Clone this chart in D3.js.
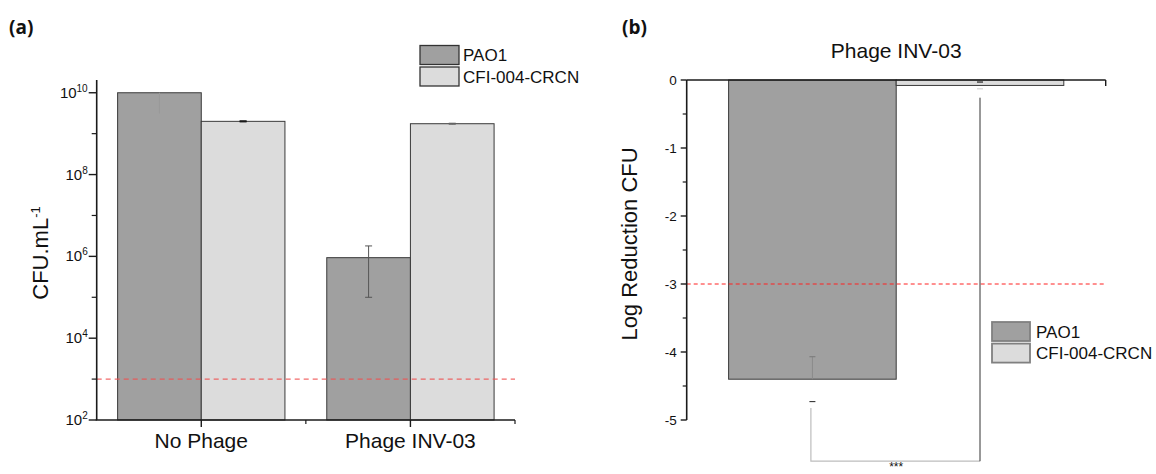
<!DOCTYPE html>
<html>
<head>
<meta charset="utf-8">
<script src="https://cdn.jsdelivr.net/npm/d3@7"></script>
<style>
  html, body { margin: 0; padding: 0; background: #fff; }
  svg { display: block; font-family: "Liberation Sans", Arial, sans-serif; }
</style>
</head>
<body>
<svg id="chart" width="1156" height="474"></svg>
<script>
// ---------------- DATA ----------------
const categories = ["No Phage", "Phage INV-03"];
const seriesNames = ["PAO1", "CFI-004-CRCN"];
const seriesColors = ["#a0a0a0", "#dcdcdc"];

// Panel (a): CFU per mL (log axis)
const cfuPAO1 = [1.0e10, 9.3e5];
const cfuCFI = [2.0e9, 1.75e9];
const pao1Low = [3.1e9, 1.0e5];
const pao1High = [1.0e10, 1.8e6];
const cfiLow = [1.97e9, 1.70e9];
const cfiHigh = [2.03e9, 1.80e9];
const logMajorTicks = [1e2, 1e4, 1e6, 1e8, 1e10];
const logTickExponents = ["2", "4", "6", "8", "10"];
const logMinorTicks = [1e3, 1e5, 1e7, 1e9];
const detectionLimit = 1e3;

// Panel (b): log reduction
const reductionTitle = "Phage INV-03";
const reductionCategory = ["Phage INV-03"];
const reductionPAO1 = [-4.40];
const reductionCFI = [-0.08];
const redPAO1Low = [-4.73];
const redPAO1High = [-4.07];
const redCFILow = [-0.13];
const redCFIHigh = [-0.03];
const reductionMajorTicks = [0, -1, -2, -3, -4, -5];
const reductionMinorTicks = [-0.5, -1.5, -2.5, -3.5, -4.5];
const reductionThreshold = -3;
const significanceLabel = "***";

// ---------------- DRAW ----------------
const svg = d3.select("#chart");
svg.append("rect").attr("width", 1156).attr("height", 474).attr("fill", "#fff");

const axisColor = "#1a1a1a";

// ===== Panel (a) =====
const aLeft = 96.7, aRight = 515, aBottom = 420, aTop = 80;
const yA = d3.scaleLog().domain([1e2, 2.05e10]).range([aBottom, aTop]);
const xA = d3.scaleBand().domain(categories).range([aLeft, aRight])
  .paddingInner(0.2).paddingOuter(0.1);
const xASeries = d3.scaleBand().domain(seriesNames).range([0, xA.bandwidth()]);

svg.append("text").attr("x", 9).attr("y", 34)
  .attr("font-family", "'Open Sans', Lato, sans-serif").attr("font-weight", 700)
  .attr("font-size", 19).attr("fill", "#111").text("(a)");

const aData = [];
categories.forEach((c, i) => {
  aData.push({cat: c, s: seriesNames[0], v: cfuPAO1[i], lo: pao1Low[i], hi: pao1High[i], color: seriesColors[0]});
  aData.push({cat: c, s: seriesNames[1], v: cfuCFI[i], lo: cfiLow[i], hi: cfiHigh[i], color: seriesColors[1]});
});

const gA = svg.append("g");
gA.selectAll("rect.bar").data(aData).enter().append("rect")
  .attr("class", "bar")
  .attr("x", d => xA(d.cat) + xASeries(d.s))
  .attr("y", d => yA(d.v))
  .attr("width", xASeries.bandwidth())
  .attr("height", d => yA(1e2) - yA(d.v))
  .attr("fill", d => d.color)
  .attr("stroke", "#3a3a3a").attr("stroke-width", 1);

// error bars (a)
const errStyleA = ["#989898", "#1a1a1a", "#555", "#666"];
aData.forEach((d, i) => {
  const cx = xA(d.cat) + xASeries(d.s) + xASeries.bandwidth() / 2;
  const col = errStyleA[i];
  gA.append("line").attr("x1", cx).attr("x2", cx)
    .attr("y1", yA(d.lo)).attr("y2", yA(d.hi))
    .attr("stroke", col).attr("stroke-width", 1);
  if (i === 0) return;
  [d.lo, d.hi].forEach(v => {
    gA.append("line").attr("x1", cx - 3.5).attr("x2", cx + 3.5)
      .attr("y1", yA(v)).attr("y2", yA(v))
      .attr("stroke", col).attr("stroke-width", i === 1 ? 1.6 : 1);
  });
});

// detection limit (a)
gA.append("line").attr("x1", aLeft).attr("x2", aRight)
  .attr("y1", yA(detectionLimit)).attr("y2", yA(detectionLimit))
  .attr("stroke", "#f05050").attr("stroke-opacity", 0.85)
  .attr("stroke-width", 1.3).attr("stroke-dasharray", "5,4");

// y axis (a)
gA.append("line").attr("x1", aLeft).attr("x2", aLeft).attr("y1", aBottom).attr("y2", aTop)
  .attr("stroke", axisColor).attr("stroke-width", 1.6);
logMajorTicks.forEach((t, i) => {
  gA.append("line").attr("x1", aLeft - 8).attr("x2", aLeft)
    .attr("y1", yA(t)).attr("y2", yA(t)).attr("stroke", axisColor).attr("stroke-width", 1.4);
  const tx = gA.append("text").attr("x", aLeft - 9).attr("y", yA(t) + 5)
    .attr("text-anchor", "end").attr("font-size", 15).attr("fill", "#111");
  tx.append("tspan").text("10");
  tx.append("tspan").attr("dy", -6).attr("font-size", 10).text(logTickExponents[i]);
});
logMinorTicks.forEach(t => {
  gA.append("line").attr("x1", aLeft - 5).attr("x2", aLeft)
    .attr("y1", yA(t)).attr("y2", yA(t)).attr("stroke", axisColor).attr("stroke-width", 1.2);
});

// x axis (a)
gA.append("line").attr("x1", aLeft - 1).attr("x2", aRight).attr("y1", aBottom).attr("y2", aBottom)
  .attr("stroke", axisColor).attr("stroke-width", 1.6);
categories.forEach(c => {
  const cx = xA(c) + xA.bandwidth() / 2;
  gA.append("line").attr("x1", cx).attr("x2", cx).attr("y1", aBottom).attr("y2", aBottom + 7)
    .attr("stroke", axisColor).attr("stroke-width", 1.4);
  gA.append("text").attr("x", cx).attr("y", 448).attr("text-anchor", "middle")
    .attr("font-size", 21).attr("fill", "#111").text(c);
});
const midA = (xA(categories[0]) + xA(categories[1]) + xA.bandwidth()) / 2;
[midA, aRight].forEach(x => {
  gA.append("line").attr("x1", x).attr("x2", x).attr("y1", aBottom).attr("y2", aBottom + 4)
    .attr("stroke", axisColor).attr("stroke-width", 1.2);
});

// y label (a)
const yLabA = gA.append("text")
  .attr("transform", `translate(48,253) rotate(-90)`)
  .attr("text-anchor", "middle").attr("font-size", 22).attr("fill", "#111");
yLabA.append("tspan").text("CFU.mL");
yLabA.append("tspan").attr("dy", -8).attr("font-size", 13).text("-1");

// legend (a)
const legA = svg.append("g");
seriesNames.forEach((s, i) => {
  const y0 = 45.5 + i * 21.5;
  legA.append("rect").attr("x", 420).attr("y", y0).attr("width", 39).attr("height", 19)
    .attr("fill", seriesColors[i]).attr("stroke", "#333").attr("stroke-width", 1.3);
  legA.append("text").attr("x", 463).attr("y", y0 + 15.5)
    .attr("font-size", 17).attr("fill", "#111").text(s);
});

// ===== Panel (b) =====
const bLeft = 686.7, bRight = 1105.7, bTop = 80, bBottom = 420;
const yB = d3.scaleLinear().domain([-5, 0]).range([bBottom, bTop]);
const xB = d3.scaleBand().domain(reductionCategory).range([bLeft, bRight])
  .paddingInner(0.2).paddingOuter(0.1);
const xBSeries = d3.scaleBand().domain(seriesNames).range([0, xB.bandwidth()]);

svg.append("text").attr("x", 622).attr("y", 34)
  .attr("font-family", "'Open Sans', Lato, sans-serif").attr("font-weight", 700)
  .attr("font-size", 19).attr("fill", "#111").text("(b)");

svg.append("text").attr("x", (bLeft + bRight) / 2).attr("y", 58)
  .attr("text-anchor", "middle").attr("font-size", 21).attr("fill", "#111").text(reductionTitle);

const bData = [
  {cat: reductionCategory[0], s: seriesNames[0], v: reductionPAO1[0], lo: redPAO1Low[0], hi: redPAO1High[0], color: seriesColors[0]},
  {cat: reductionCategory[0], s: seriesNames[1], v: reductionCFI[0], lo: redCFILow[0], hi: redCFIHigh[0], color: seriesColors[1]}
];

const gB = svg.append("g");
gB.selectAll("rect.bar").data(bData).enter().append("rect")
  .attr("class", "bar")
  .attr("x", d => xB(d.cat) + xBSeries(d.s))
  .attr("y", yB(0))
  .attr("width", xBSeries.bandwidth())
  .attr("height", d => yB(d.v) - yB(0))
  .attr("fill", d => d.color)
  .attr("stroke", "#3a3a3a").attr("stroke-width", 1);

// error bars (b)
const cxB = bData.map(d => xB(d.cat) + xBSeries(d.s) + xBSeries.bandwidth() / 2);
gB.append("line").attr("x1", cxB[0]).attr("x2", cxB[0])
  .attr("y1", yB(bData[0].hi)).attr("y2", yB(bData[0].v))
  .attr("stroke", "#8a8a8a").attr("stroke-width", 1);
gB.append("line").attr("x1", cxB[0] - 3).attr("x2", cxB[0] + 3)
  .attr("y1", yB(bData[0].hi)).attr("y2", yB(bData[0].hi)).attr("stroke", "#777").attr("stroke-width", 1);
gB.append("line").attr("x1", cxB[0] - 3).attr("x2", cxB[0] + 3)
  .attr("y1", yB(bData[0].lo)).attr("y2", yB(bData[0].lo)).attr("stroke", "#222").attr("stroke-width", 1);
gB.append("line").attr("x1", cxB[1] - 3).attr("x2", cxB[1] + 3)
  .attr("y1", yB(bData[1].hi)).attr("y2", yB(bData[1].hi)).attr("stroke", "#222").attr("stroke-width", 1.2);
gB.append("line").attr("x1", cxB[1] - 3).attr("x2", cxB[1] + 3)
  .attr("y1", yB(bData[1].lo)).attr("y2", yB(bData[1].lo)).attr("stroke", "#ccc").attr("stroke-width", 1);

// threshold (b)
gB.append("line").attr("x1", bLeft).attr("x2", bRight)
  .attr("y1", yB(reductionThreshold)).attr("y2", yB(reductionThreshold))
  .attr("stroke", "#ff2020").attr("stroke-width", 1).attr("stroke-dasharray", "4,3");

// y axis (b)
gB.append("line").attr("x1", bLeft).attr("x2", bLeft).attr("y1", bBottom).attr("y2", bTop)
  .attr("stroke", axisColor).attr("stroke-width", 1.6);
reductionMajorTicks.forEach(t => {
  gB.append("line").attr("x1", bLeft - 6).attr("x2", bLeft)
    .attr("y1", yB(t)).attr("y2", yB(t)).attr("stroke", axisColor).attr("stroke-width", 1.4);
  gB.append("text").attr("x", bLeft - 10).attr("y", yB(t) + 5)
    .attr("text-anchor", "end").attr("font-size", 13.5).attr("fill", "#111")
    .text(t === 0 ? "0" : "-" + Math.abs(t));
});
reductionMinorTicks.forEach(t => {
  gB.append("line").attr("x1", bLeft - 4).attr("x2", bLeft)
    .attr("y1", yB(t)).attr("y2", yB(t)).attr("stroke", axisColor).attr("stroke-width", 1.2);
});
gB.append("line").attr("x1", bLeft).attr("x2", bRight).attr("y1", bTop).attr("y2", bTop)
  .attr("stroke", axisColor).attr("stroke-width", 1.6);
gB.append("line").attr("x1", bRight).attr("x2", bRight).attr("y1", bTop).attr("y2", bTop + 6)
  .attr("stroke", axisColor).attr("stroke-width", 1.4);

// y label (b)
gB.append("text").attr("transform", `translate(637,244) rotate(-90)`)
  .attr("text-anchor", "middle").attr("font-size", 22).attr("fill", "#111")
  .text("Log Reduction CFU");

// significance bracket
const brBottom = 461.2;
gB.append("path")
  .attr("d", `M${cxB[0] - 1.5},408 V${brBottom} H${cxB[1]}`)
  .attr("fill", "none").attr("stroke", "#bdbdbd").attr("stroke-width", 1.2);
gB.append("line").attr("x1", cxB[1]).attr("x2", cxB[1]).attr("y1", brBottom).attr("y2", 97.7)
  .attr("stroke", "#333").attr("stroke-width", 1);
gB.append("text").attr("x", (cxB[0] + cxB[1]) / 2).attr("y", 470.5)
  .attr("text-anchor", "middle").attr("font-size", 12).attr("fill", "#111").text(significanceLabel);

// legend (b)
const legB = svg.append("g");
seriesNames.forEach((s, i) => {
  const y0 = 322 + i * 21.6;
  legB.append("rect").attr("x", 992).attr("y", y0).attr("width", 38).attr("height", 19)
    .attr("fill", seriesColors[i]).attr("stroke", "#808080").attr("stroke-width", 1.8);
  legB.append("text").attr("x", 1036).attr("y", y0 + 15.5)
    .attr("font-size", 17).attr("fill", "#111").text(s);
});
</script>
</body>
</html>
